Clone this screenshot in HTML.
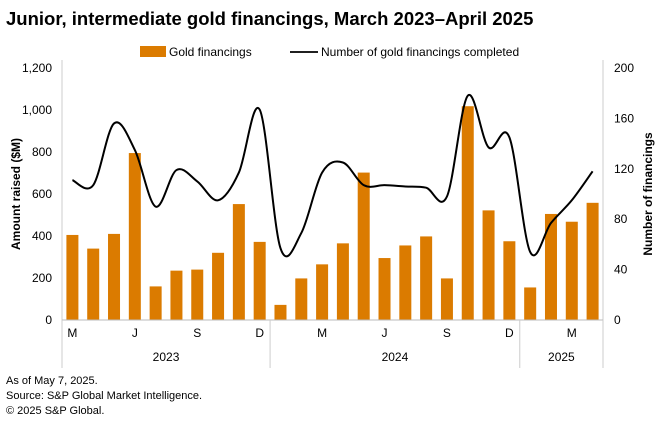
<!DOCTYPE html>
<html><head><meta charset="utf-8"><style>
body{margin:0;background:#fff;font-family:"Liberation Sans",sans-serif}
text{font-family:"Liberation Sans",sans-serif}
</style></head><body>
<svg id="c" width="660" height="429">
<text x="6" y="25" font-size="18.5" font-weight="bold" fill="#000">Junior, intermediate gold financings, March 2023–April 2025</text>
<g>
<rect x="140" y="46" width="26" height="11" fill="#db7b00"/>
<text x="169" y="56" font-size="12">Gold financings</text>
<line x1="290" y1="52" x2="318" y2="52" stroke="#000" stroke-width="1.8"/>
<text x="321" y="56" font-size="12">Number of gold financings completed</text>
</g>
<text transform="translate(20,194) rotate(-90)" text-anchor="middle" font-size="12" font-weight="bold">Amount raised ($M)</text>
<text transform="translate(652,194) rotate(-90)" text-anchor="middle" font-size="12" font-weight="bold">Number of financings</text>
<text x="6" y="384" font-size="11">As of May 7, 2025.</text>
<text x="6" y="399" font-size="11">Source: S&amp;P Global Market Intelligence.</text>
<text x="6" y="414" font-size="11">© 2025 S&amp;P Global.</text>
<g id="plot"></g>
</svg>
<script>
const categories=["Mar 23","Apr 23","May 23","Jun 23","Jul 23","Aug 23","Sep 23","Oct 23","Nov 23","Dec 23","Jan 24","Feb 24","Mar 24","Apr 24","May 24","Jun 24","Jul 24","Aug 24","Sep 24","Oct 24","Nov 24","Dec 24","Jan 25","Feb 25","Mar 25","Apr 25"];
const amounts=[405,340,410,795,160,235,240,320,552,372,72,198,265,365,702,295,355,398,198,1018,522,375,155,505,468,558];
const counts=[111,107,156,135,90,119,110,95,117,167,57,69,117,125,107,107,106,105,98,178,137,145,54,77,95,118];
const leftTicks=[0,200,400,600,800,1000,1200];
const leftTickLabels=["0","200","400","600","800","1,000","1,200"];
const rightTicks=[0,40,80,120,160,200];
const monthLabels=["M","","","J","","","S","","","D","","","M","","","J","","","S","","","D","","","M",""];
const years=[{label:"2023",from:0,to:9},{label:"2024",from:10,to:21},{label:"2025",from:22,to:25}];
const NS="http://www.w3.org/2000/svg";
const g=document.getElementById('plot');
const X0=62,X1=603,Y0=320,Y1=68;
const step=(X1-X0)/categories.length;
const xc=i=>X0+step*(i+0.5);
const yL=v=>Y0-(v/1200)*(Y0-Y1);
const yR=v=>Y0-(v/200)*(Y0-Y1);
function mk(t,a){const e=document.createElementNS(NS,t);for(const k in a)e.setAttribute(k,a[k]);g.appendChild(e);return e;}
let e=mk('line',{x1:X0,y1:Y1-8,x2:X0,y2:Y0,stroke:'#ccc'});


e=mk('line',{x1:X1,y1:Y1-8,x2:X1,y2:Y0,stroke:'#ccc'});


leftTicks.forEach((v,i)=>{const t=mk('text',{x:52,y:yL(v)+4,'text-anchor':'end','font-size':12});t.textContent=leftTickLabels[i];

});
rightTicks.forEach(v=>{const t=mk('text',{x:614,y:yR(v)+4,'font-size':12});t.textContent=v;

});
amounts.forEach((v,i)=>{const r=mk('rect',{x:xc(i)-6,y:yL(v),width:12,height:Y0-yL(v),fill:'#db7b00'});

});
const pts=counts.map((v,i)=>[xc(i),yR(v)]);
let d='M'+pts[0][0]+','+pts[0][1];
for(let i=0;i<pts.length-1;i++){const p0=pts[Math.max(0,i-1)],p1=pts[i],p2=pts[i+1],p3=pts[Math.min(pts.length-1,i+2)];
const c1=[p1[0]+(p2[0]-p0[0])/6,p1[1]+(p2[1]-p0[1])/6],c2=[p2[0]-(p3[0]-p1[0])/6,p2[1]-(p3[1]-p1[1])/6];
d+=' C'+c1+' '+c2+' '+p2;}
e=mk('path',{d:d,fill:'none',stroke:'#000','stroke-width':2});


e=mk('line',{x1:X0,y1:Y0,x2:X1,y2:Y0,stroke:'#bbb'});


monthLabels.forEach((m,i)=>{if(!m)return;const t=mk('text',{x:xc(i),y:337,'text-anchor':'middle','font-size':12});t.textContent=m;

});
[0,10,22,26].forEach(k=>{const x=X0+step*k;const l=mk('line',{x1:x,y1:Y0,x2:x,y2:368,stroke:'#ccc'});

});
years.forEach(y=>{const t=mk('text',{x:(xc(y.from)+xc(y.to))/2,y:361,'text-anchor':'middle','font-size':12});t.textContent=y.label;

});
</script>
</body></html>
